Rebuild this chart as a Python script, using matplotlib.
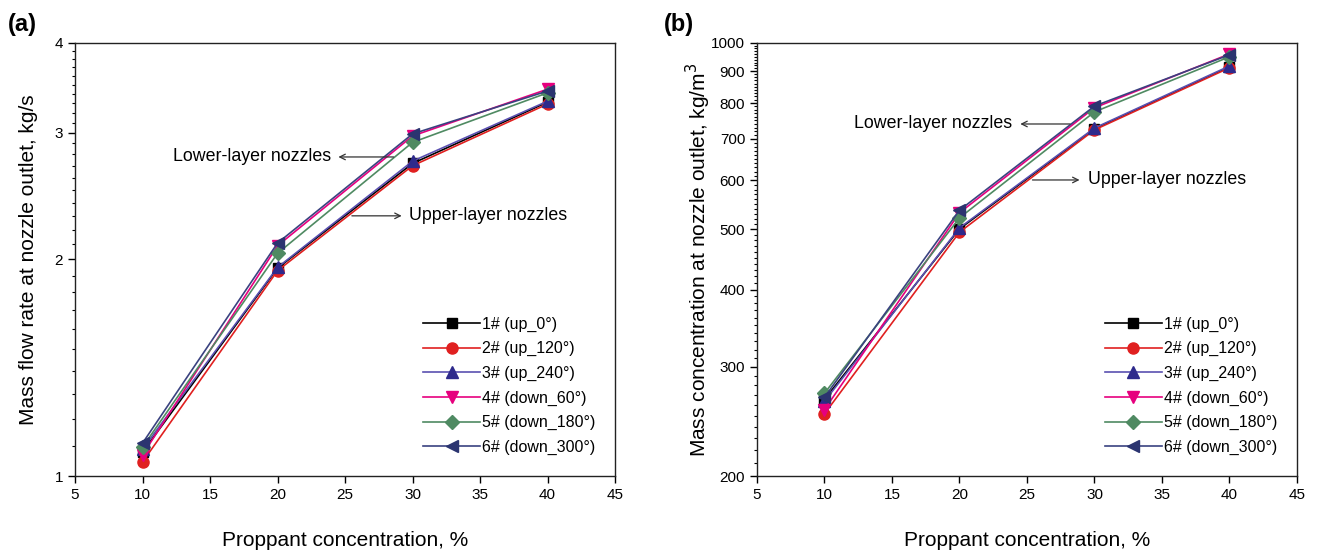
import numpy as np
import matplotlib
matplotlib.use('Agg')
import matplotlib.pyplot as plt
from matplotlib.ticker import FixedLocator, MultipleLocator, NullFormatter

plt.rcParams['font.family'] = ['Liberation Sans', 'DejaVu Sans']

conc = [10, 20, 30, 40]

labels = ['1# (up_0\u00b0)', '2# (up_120\u00b0)', '3# (up_240\u00b0)',
          '4# (down_60\u00b0)', '5# (down_180\u00b0)', '6# (down_300\u00b0)']

# mass flow rate, kg/s
flow_1 = [1.08, 1.945, 2.72, 3.31]
flow_2 = [1.046, 1.93, 2.70, 3.29]
flow_3 = [1.09, 1.95, 2.74, 3.32]
flow_4 = [1.07, 2.09, 2.97, 3.45]
flow_5 = [1.097, 2.04, 2.91, 3.41]
flow_6 = [1.111, 2.108, 2.99, 3.43]

# mass concentration, kg/m3
mc_1 = [266, 501, 727, 915]
mc_2 = [252, 495, 724, 912]
mc_3 = [264, 503, 729, 918]
mc_4 = [256, 532, 786, 960]
mc_5 = [272, 522, 774, 950]
mc_6 = [268, 537, 791, 957]

markers = ['s', 'o', '^', 'v', 'D', '<']
mcolors = ['#000000', '#e02020', '#2e2a8c', '#e6007e', '#4f8a62', '#2b3470']
lcolors = ['#000000', '#e02020', '#5a50b0', '#e6007e', '#4f8a62', '#3a4280']
msizes = [7, 8, 8, 8, 7, 8]

fig = plt.figure(figsize=(13.19, 5.51), dpi=100)
axA = fig.add_axes([0.0569, 0.1361, 0.4094, 0.7859])
axB = fig.add_axes([0.5739, 0.1361, 0.4094, 0.7859])

def drawPanel(ax, series):
    for i, ys in enumerate(series):
        ax.plot(conc, ys, color=lcolors[i], lw=1.2, marker=markers[i],
                markersize=msizes[i], markerfacecolor=mcolors[i],
                markeredgecolor=mcolors[i], label=labels[i])
    ax.set_xlim(5, 45)
    ax.set_xticks(range(5, 50, 5))
    ax.set_yscale('log')
    ax.tick_params(direction='out', labelsize=11, length=5, width=1)
    ax.tick_params(which='minor', direction='out', length=2.5, width=0.8)
    ax.tick_params(axis='x', which='minor', bottom=False)
    ax.set_xlabel('Proppant concentration, %', fontsize=15, labelpad=21)
    for s in ax.spines.values():
        s.set_linewidth(1.0)
        s.set_color('#222222')
    ax.legend(loc='lower right', bbox_to_anchor=(0.99, 0.015), frameon=False,
              fontsize=11.5, handlelength=3.6, labelspacing=0.6, handletextpad=0.1)

drawPanel(axA, [flow_1, flow_2, flow_3, flow_4, flow_5, flow_6])
axA.set_ylim(1, 4)
axA.yaxis.set_major_locator(FixedLocator([1, 2, 3, 4]))
axA.yaxis.set_major_formatter(matplotlib.ticker.FuncFormatter(lambda v, p: '%d' % v))
axA.yaxis.set_minor_locator(MultipleLocator(0.1))
axA.yaxis.set_minor_formatter(NullFormatter())
axA.set_ylabel('Mass flow rate at nozzle outlet, kg/s', fontsize=15, labelpad=12)

drawPanel(axB, [mc_1, mc_2, mc_3, mc_4, mc_5, mc_6])
axB.set_ylim(200, 1000)
axB.yaxis.set_major_locator(FixedLocator([200, 300, 400, 500, 600, 700, 800, 900, 1000]))
axB.yaxis.set_major_formatter(matplotlib.ticker.FuncFormatter(lambda v, p: '%d' % v))
axB.yaxis.set_minor_locator(MultipleLocator(10))
axB.yaxis.set_minor_formatter(NullFormatter())
axB.set_ylabel('Mass concentration at nozzle outlet, kg/m$^3$', fontsize=15, labelpad=-1)

arrow = dict(arrowstyle='->', color='#333333', lw=0.9)
axA.annotate('', xy=(24.3, 2.777), xytext=(28.8, 2.777), arrowprops=arrow)
axA.text(24.0, 2.777, 'Lower-layer nozzles', fontsize=12.8, ha='right', va='center')
axA.annotate('', xy=(29.4, 2.30), xytext=(25.3, 2.30), arrowprops=arrow)
axA.text(29.7, 2.30, 'Upper-layer nozzles', fontsize=12.8, ha='left', va='center')

axB.annotate('', xy=(24.3, 740), xytext=(28.4, 740), arrowprops=arrow)
axB.text(23.9, 740, 'Lower-layer nozzles', fontsize=12.8, ha='right', va='center')
axB.annotate('', xy=(29.1, 601), xytext=(25.2, 601), arrowprops=arrow)
axB.text(29.5, 601, 'Upper-layer nozzles', fontsize=12.8, ha='left', va='center')

fig.text(0.006, 0.955, '(a)', fontsize=17, fontweight='bold', va='center')
fig.text(0.503, 0.955, '(b)', fontsize=17, fontweight='bold', va='center')

fig.savefig('out.png', dpi=100)
